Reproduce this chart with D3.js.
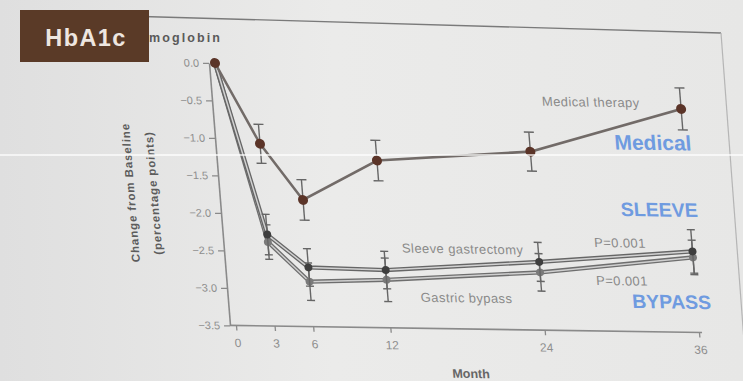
<!DOCTYPE html>
<html>
<head>
<meta charset="utf-8">
<script src="https://cdn.jsdelivr.net/npm/d3@7"></script>
<style>
  html, body { margin: 0; padding: 0; background: #e6e6e4; }
  svg { display: block; }
  text { font-family: "Liberation Sans", Arial, sans-serif; }
</style>
</head>
<body>
<svg id="chart" width="743" height="381"></svg>
<script>
// HbA1c change from baseline (percentage points), by month
const months = [0, 3, 6, 12, 24, 36];
const monthTicks = [0, 3, 6, 12, 24, 36];
const yTicks = [0, -0.5, -1, -1.5, -2, -2.5, -3, -3.5];

const medical    = [0, -1.07, -1.81, -1.27, -1.12, -0.52];
const medicalErr = [0, 0.26, 0.27, 0.27, 0.26, 0.28];
const sleeve     = [0, -2.28, -2.71, -2.73, -2.59, -2.42];
const sleeveErr  = [0, 0.27, 0.25, 0.25, 0.26, 0.29];
const bypass     = [0, -2.38, -2.90, -2.86, -2.73, -2.50];
const bypassErr  = [0, 0.23, 0.25, 0.29, 0.25, 0.23];

const svg = d3.select("#chart");
const W = 743, H = 381;

// slide background
const defs = svg.append("defs");
const bg = defs.append("linearGradient").attr("id", "bg").attr("x1", 0).attr("x2", 1).attr("y1", 0).attr("y2", 0);
bg.append("stop").attr("offset", "0%").attr("stop-color", "#dfdfdf");
bg.append("stop").attr("offset", "45%").attr("stop-color", "#ebebea");
bg.append("stop").attr("offset", "100%").attr("stop-color", "#e7e7e6");
svg.append("rect").attr("width", W).attr("height", H).attr("fill", "url(#bg)");

// figure frame
svg.append("line").attr("x1", 20).attr("y1", 13).attr("x2", 721).attr("y2", 33)
  .attr("stroke", "#7a7a7a").attr("stroke-width", 1.3);
svg.append("line").attr("x1", 721).attr("y1", 33).attr("x2", 747).attr("y2", 381)
  .attr("stroke", "#b5b5b5").attr("stroke-width", 1.2);

// panel title, its start hidden behind the HbA1c tag
defs.append("clipPath").attr("id", "titleClip")
  .append("rect").attr("x", 149).attr("y", 20).attr("width", 120).attr("height", 30);
svg.append("text").attr("x", 222).attr("y", 42).attr("text-anchor", "end")
  .attr("clip-path", "url(#titleClip)")
  .attr("font-size", 12.5).attr("font-weight", "bold").attr("letter-spacing", 2.1)
  .attr("fill", "#5a5a5a").text("Glycated Hemoglobin");

// plot group, sheared slightly like the projected slide
const k = 0.08, m = 0.015;
const g = svg.append("g")
  .attr("transform", `matrix(1,${m},${k},1,${-k * 63},${-m * 215})`);

const x = d3.scaleLinear().domain([0, 36]).range([215, 678]);
const y = d3.scaleLinear().domain([0, -3.5]).range([63, 325.5]);
const axisX = 209;

// y axis
const yAxis = g.append("g").attr("transform", `translate(${axisX},0)`)
  .call(d3.axisLeft(y).tickValues(yTicks).tickFormat(d3.format(".1f"))
    .tickSize(6).tickSizeOuter(0).tickPadding(4));
yAxis.select(".domain").attr("stroke", "#8a8a8a").attr("stroke-width", 1.6);
yAxis.selectAll(".tick line").attr("stroke", "#8a8a8a").attr("stroke-width", 1.3);
yAxis.selectAll(".tick text").attr("font-size", 11).attr("fill", "#8e8e8e")
  .attr("font-family", "Liberation Sans, Arial, sans-serif");

// x axis
const xAxis = g.append("g").attr("transform", `translate(0,${y(-3.5)})`)
  .call(d3.axisBottom(x).tickValues(monthTicks).tickSize(5).tickSizeOuter(0).tickPadding(8));
xAxis.select(".domain").remove();
xAxis.append("line").attr("x1", axisX).attr("x2", x(36) + 3).attr("y1", 0).attr("y2", 0)
  .attr("stroke", "#8a8a8a").attr("stroke-width", 1.6);
xAxis.selectAll(".tick line").attr("stroke", "#8a8a8a").attr("stroke-width", 1.3);
xAxis.selectAll(".tick text").attr("font-size", 12).attr("fill", "#8e8e8e")
  .attr("font-family", "Liberation Sans, Arial, sans-serif");

g.append("text").attr("x", (x(0) + x(36)) / 2).attr("y", 374.5).attr("text-anchor", "middle")
  .attr("font-size", 12.5).attr("font-weight", "bold").attr("fill", "#666").text("Month");

// y axis title
const yt = g.append("text").attr("transform", "translate(131,194) rotate(-90)")
  .attr("text-anchor", "middle").attr("font-size", 11.5).attr("font-weight", "bold")
  .attr("fill", "#5c5c5c").attr("letter-spacing", 0.9);
yt.append("tspan").attr("x", 0).attr("dy", -7).text("Change from Baseline");
yt.append("tspan").attr("x", 0).attr("dy", 23).text("(percentage points)");

// series
const series = [
  { name: "bypass", vals: bypass, err: bypassErr, line: "#6e6e6e", inner: "#cfcfcf", dot: "#7a7a7a", r: 4, cap: 4 },
  { name: "sleeve", vals: sleeve, err: sleeveErr, line: "#666", inner: "#d2d2d2", dot: "#3e3e3e", r: 4, cap: 4 },
  { name: "medical", vals: medical, err: medicalErr, line: "#726b68", inner: null, dot: "#5b3428", r: 5, cap: 5 }
];

const lineGen = d3.line().x(d => x(d.m)).y(d => y(d.v));

series.forEach(s => {
  const pts = months.map((mm, i) => ({ m: mm, v: s.vals[i], e: s.err[i] }));
  const sg = g.append("g").attr("class", s.name);
  sg.append("path").datum(pts).attr("d", lineGen).attr("fill", "none")
    .attr("stroke", s.line).attr("stroke-width", s.inner ? 4.2 : 2.6).attr("stroke-linejoin", "round");
  if (s.inner) {
    sg.append("path").datum(pts).attr("d", lineGen).attr("fill", "none")
      .attr("stroke", s.inner).attr("stroke-width", 1.5).attr("stroke-linejoin", "round");
  }
  const eb = sg.selectAll("g.err").data(pts.filter(p => p.e > 0)).join("g").attr("class", "err")
    .attr("stroke", "#666").attr("stroke-width", 1.4);
  eb.append("line").attr("x1", d => x(d.m)).attr("x2", d => x(d.m))
    .attr("y1", d => y(d.v + d.e)).attr("y2", d => y(d.v - d.e));
  eb.append("line").attr("x1", d => x(d.m) - s.cap).attr("x2", d => x(d.m) + s.cap)
    .attr("y1", d => y(d.v + d.e)).attr("y2", d => y(d.v + d.e));
  eb.append("line").attr("x1", d => x(d.m) - s.cap).attr("x2", d => x(d.m) + s.cap)
    .attr("y1", d => y(d.v - d.e)).attr("y2", d => y(d.v - d.e));
  sg.selectAll("circle").data(pts).join("circle")
    .attr("cx", d => x(d.m)).attr("cy", d => y(d.v)).attr("r", s.r).attr("fill", s.dot);
});

// in-plot labels
const lab = (tx, ty, t, anchor) => g.append("text").attr("x", tx).attr("y", ty)
  .attr("text-anchor", anchor || "middle").attr("font-size", 13).attr("fill", "#8a8a8a")
  .attr("letter-spacing", 0.4).text(t);
lab(588, 101, "Medical therapy");
lab(448, 250, "Sleeve gastrectomy");
lab(606, 241.5, "P=0.001");
lab(605, 279.5, "P=0.001");
lab(448, 299, "Gastric bypass");

// group names
const tag = (tx, ty, t, fs) => g.append("text").attr("x", tx).attr("y", ty).attr("text-anchor", "middle")
  .attr("font-size", fs).attr("font-weight", "bold").attr("fill", "#6f9be0").text(t);
tag(647, 143.5, "Medical", 21);
tag(648, 210, "SLEEVE", 19.5);
tag(653, 302, "BYPASS", 19.5);

// HbA1c tag
svg.append("rect").attr("x", 20).attr("y", 10).attr("width", 129).attr("height", 52).attr("fill", "#5a3a27");
svg.append("text").attr("x", 86).attr("y", 45.5).attr("text-anchor", "middle")
  .attr("font-size", 23.5).attr("font-weight", "bold").attr("letter-spacing", 1.4)
  .attr("fill", "#eee6e0").text("HbA1c");

// thin bright streak across the slide
svg.append("line").attr("x1", 0).attr("x2", W).attr("y1", 155).attr("y2", 155)
  .attr("stroke", "#ffffff").attr("stroke-width", 1.3).attr("opacity", 0.9);
</script>
</body>
</html>
